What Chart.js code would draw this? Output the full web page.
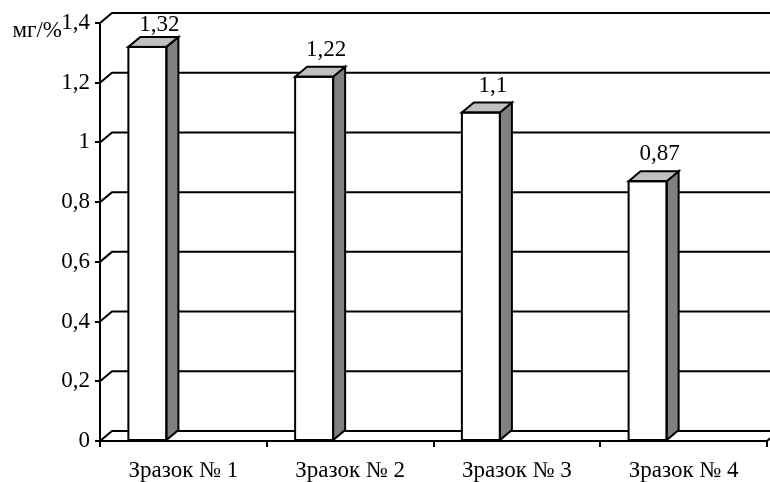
<!DOCTYPE html>
<html>
<head>
<meta charset="utf-8">
<script src="https://cdn.jsdelivr.net/npm/chart.js@4.4.1/dist/chart.umd.min.js"></script>
<style>
  body { margin: 0; background: #fff; }
  canvas { display: block; }
</style>
</head>
<body>
<canvas id="chart" width="770" height="482"></canvas>
<script>
var categories = ['Зразок № 1', 'Зразок № 2', 'Зразок № 3', 'Зразок № 4'];
var values = [1.32, 1.22, 1.1, 0.87];
var unitLabel = 'мг/%';
var yMax = 1.4;
var yStep = 0.2;

// depth of the 3d look
var depthX = 12;
var depthY = -10;
var barShift = -36;
var fontSize = 23;
var fontFamily = '"Liberation Serif", "Times New Roman", serif';
var font = fontSize + 'px ' + fontFamily;

function comma(v) {
  return (Math.round(v * 100) / 100).toString().replace('.', ',');
}

var wallPlugin = {
  id: 'wall',
  beforeDatasetsDraw: function (chart) {
    var ctx = chart.ctx;
    var area = chart.chartArea;
    var y = chart.scales.y;
    ctx.save();
    ctx.strokeStyle = '#000';
    ctx.lineWidth = 2;
    y.ticks.forEach(function (t) {
      var py = y.getPixelForValue(t.value);
      ctx.beginPath();
      ctx.moveTo(area.left, py);
      ctx.lineTo(area.left + depthX, py + depthY);
      ctx.lineTo(area.right + depthX, py + depthY);
      ctx.stroke();
    });
    // right end of the floor
    ctx.beginPath();
    ctx.moveTo(area.right, area.bottom);
    ctx.lineTo(area.right + depthX, area.bottom + depthY);
    ctx.stroke();
    ctx.restore();
    // bars drawn shifted to the left of the category centre
    ctx.save();
    ctx.translate(barShift, 0);
  },
  afterDatasetsDraw: function (chart) {
    var ctx = chart.ctx;
    ctx.restore();
    var area = chart.chartArea;
    var meta = chart.getDatasetMeta(0);
    ctx.save();
    ctx.strokeStyle = '#000';
    ctx.lineWidth = 2;
    meta.data.forEach(function (el, i) {
      var cx = el.x + barShift;
      var l = cx - el.width / 2;
      var r = cx + el.width / 2;
      var top = el.y;
      var base = el.base;
      // side face
      ctx.beginPath();
      ctx.moveTo(r, top);
      ctx.lineTo(r + depthX, top + depthY);
      ctx.lineTo(r + depthX, base + depthY);
      ctx.lineTo(r, base);
      ctx.closePath();
      ctx.fillStyle = '#808080';
      ctx.fill();
      ctx.stroke();
      // top face
      ctx.beginPath();
      ctx.moveTo(l, top);
      ctx.lineTo(l + depthX, top + depthY);
      ctx.lineTo(r + depthX, top + depthY);
      ctx.lineTo(r, top);
      ctx.closePath();
      ctx.fillStyle = '#c0c0c0';
      ctx.fill();
      ctx.stroke();
      // front outline
      ctx.strokeRect(l, top, r - l, base - top);
      // value label
      ctx.fillStyle = '#000';
      ctx.font = font;
      ctx.textAlign = 'center';
      ctx.textBaseline = 'alphabetic';
      var ly = Math.max(top + depthY - 11, area.top + 8);
      ctx.fillText(comma(values[i]), cx + depthX, ly);
    });
    ctx.restore();
  },
  afterDraw: function (chart) {
    var ctx = chart.ctx;
    ctx.save();
    ctx.fillStyle = '#000';
    ctx.font = font;
    ctx.textAlign = 'right';
    ctx.textBaseline = 'alphabetic';
    ctx.fillText(unitLabel, 62, 37);
    ctx.restore();
  }
};

new Chart(document.getElementById('chart'), {
  type: 'bar',
  data: {
    labels: categories,
    datasets: [{
      data: values,
      backgroundColor: '#ffffff',
      borderColor: '#000000',
      borderWidth: 0,
      barPercentage: 0.228,
      categoryPercentage: 1
    }]
  },
  options: {
    responsive: false,
    animation: false,
    layout: { padding: { top: 23, right: 3, left: 0, bottom: 0 } },
    plugins: {
      legend: { display: false },
      tooltip: { enabled: false }
    },
    scales: {
      x: {
        grid: {
          offset: true,
          drawOnChartArea: false,
          drawTicks: true,
          tickLength: 6,
          color: '#000',
          lineWidth: 2
        },
        border: { display: true, color: '#000', width: 2 },
        ticks: { color: '#000', font: { family: fontFamily, size: fontSize }, padding: 10, maxRotation: 0 },
        afterFit: function (s) { s.height = 41; }
      },
      y: {
        min: 0,
        max: yMax,
        ticks: {
          stepSize: yStep,
          color: '#000',
          font: { family: fontFamily, size: fontSize },
          padding: 5,
          callback: function (v) { return comma(v); }
        },
        grid: {
          drawOnChartArea: false,
          drawTicks: true,
          tickLength: 5,
          color: '#000',
          lineWidth: 2
        },
        border: { display: true, color: '#000', width: 2 },
        afterFit: function (s) { s.width = 100; }
      }
    }
  },
  plugins: [wallPlugin]
});
</script>
</body>
</html>
